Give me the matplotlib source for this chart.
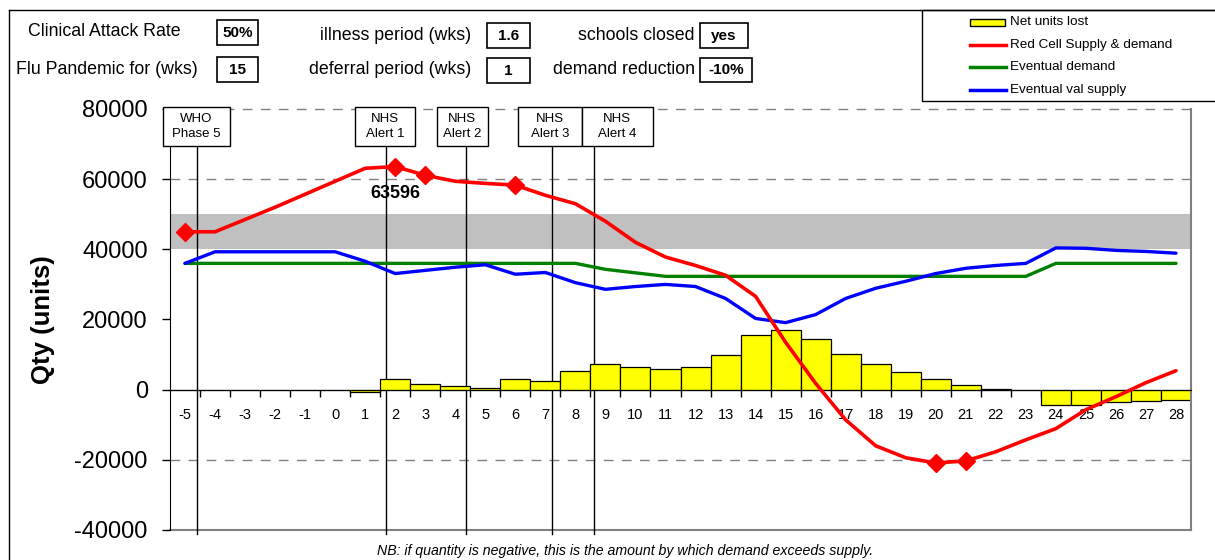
import numpy as np
import matplotlib
matplotlib.use('Agg')
import matplotlib.pyplot as plt
from matplotlib.patches import Rectangle
from matplotlib.lines import Line2D

plt.rcParams['font.family'] = ['Liberation Sans', 'DejaVu Sans']

# weeks relative to pandemic start
weeks = list(range(-5, 29))

net_units_lost = [0, 0, 0, 0, 0, 0, -800, 2900, 1700, 1100, 400, 2900, 2400, 5400,
                  7300, 6600, 5900, 6600, 9900, 15700, 16900, 14300, 10200, 7300,
                  5000, 2900, 1400, 300, 0, -4500, -4500, -3600, -3300, -2900]

red_cell = [45000, 45000, 48500, 52000, 55700, 59400, 63100, 63596, 61100, 59400,
            58800, 58300, 55400, 53000, 48000, 42000, 37800, 35400, 32600, 26600,
            13500, 1800, -8600, -16000, -19400, -20900, -20300, -17700, -14300,
            -11100, -5700, -2000, 2000, 5400]

eventual_demand = [36000] * 14 + [34300, 33300] + [32300] * 13 + [36000] * 5

eventual_supply = [36000, 39300, 39300, 39300, 39300, 39300, 36600, 33100, 34000,
                   34900, 35600, 32900, 33400, 30500, 28600, 29400, 30000, 29400,
                   26000, 20300, 19100, 21400, 26000, 28900, 30900, 33100, 34600,
                   35400, 36000, 40400, 40300, 39700, 39400, 38900]

marker_weeks = [-5, 2, 3, 6, 20, 21]

# event markers: label, line position (week), box left/right (week)
events = [
    ('WHO\nPhase 5', -4.61, -5.73, -3.50),
    ('NHS\nAlert 1', 1.69, 0.66, 2.65),
    ('NHS\nAlert 2', 4.35, 3.38, 5.08),
    ('NHS\nAlert 3', 7.21, 6.08, 8.21),
    ('NHS\nAlert 4', 8.62, 8.21, 10.57),
]

peak_label = '63596'

W, H = 1215, 560


def px(x, y):
    return x / W, 1 - y / H


fig = plt.figure(figsize=(W / 100, H / 100), dpi=100)
ax = fig.add_axes([170 / W, 1 - 530 / H, (1191 - 170) / W, (530 - 109) / H])

ax.set_xlim(-5.5, 28.5)
ax.set_ylim(-40000, 80000)

# shaded band and reference lines
ax.axhspan(40000, 50000, color='#C0C0C0', lw=0, zorder=0)
for yv in [80000, 60000, -20000]:
    ax.axhline(yv, color='#808080', lw=1, ls=(0, (7, 6)), zorder=0.5, clip_on=False)
ax.axhline(-40000, color='#808080', lw=1.5, zorder=0.5, clip_on=False)

# bars
ax.bar(weeks, net_units_lost, width=1.0, color='#FFFF00', edgecolor='black',
       linewidth=0.9, zorder=2)

# lines
ax.plot(weeks, eventual_demand, color='#008000', lw=2.4, zorder=3, solid_capstyle='round')
ax.plot(weeks, eventual_supply, color='#0000FF', lw=2.4, zorder=3, solid_capstyle='round')
mk_idx = [weeks.index(w) for w in marker_weeks]
ax.plot(weeks, red_cell, color='#FF0000', lw=2.6, zorder=4, marker='D', markersize=9,
        markevery=mk_idx, solid_capstyle='round')

ax.text(2, 56000, peak_label, ha='center', va='center', fontsize=13,
        fontweight='bold', zorder=6)

# event lines and boxes
for label, xl, x0, x1 in events:
    ax.plot([xl, xl], [-41200, 69400], color='black', lw=1, zorder=1.5, clip_on=False)
    ax.add_patch(Rectangle((x0, 69400), x1 - x0, 80600 - 69400, facecolor='white',
                           edgecolor='black', lw=1, zorder=5, clip_on=False))
    ax.text((x0 + x1) / 2, 75000, label, ha='center', va='center', fontsize=9.5,
            zorder=6, linespacing=1.25)

# axes styling
ax.spines['top'].set_visible(False)
ax.spines['right'].set_color('#808080')
ax.spines['right'].set_linewidth(1.5)
ax.spines['left'].set_color('black')
ax.spines['bottom'].set_position(('data', 0))
ax.spines['bottom'].set_color('black')
ax.spines['bottom'].set_zorder(2.5)

ax.set_yticks([80000, 60000, 40000, 20000, 0, -20000, -40000])
ax.set_yticklabels(['80000', '60000', '40000', '20000', '0', '-20000', '-40000'])
ax.tick_params(axis='y', length=6, width=1, pad=10, labelsize=17)

ax.set_xticks(weeks)
ax.set_xticklabels([str(w) for w in weeks])
ax.set_xticks(np.arange(-4.5, 28.5, 1), minor=True)
ax.tick_params(axis='x', which='major', length=0, pad=13, labelsize=10.5)
ax.tick_params(axis='x', which='minor', length=5, width=1, direction='out')

fig.text(*px(43, 320), 'Qty (units)', rotation=90, ha='center', va='center',
         fontsize=18.5, fontweight='bold')

fig.text(*px(625, 551), 'NB: if quantity is negative, this is the amount by which demand exceeds supply.',
         ha='center', va='center', fontsize=10.2, style='italic')

# outer frame
fig.add_artist(Line2D([px(9, 0)[0], px(9, 0)[0]], [px(0, 10)[1], 0], color='black', lw=1))
fig.add_artist(Line2D([px(9, 0)[0], 1], [px(0, 10)[1], px(0, 10)[1]], color='black', lw=1))

# header parameters
header_labels = [
    ('Clinical Attack Rate', 104, 32, 'center'),
    ('Flu Pandemic for (wks)', 107, 70, 'center'),
    ('illness period (wks)', 471, 35, 'right'),
    ('deferral period (wks)', 471, 70, 'right'),
    ('schools closed', 694, 36, 'right'),
    ('demand reduction', 695, 70, 'right'),
]
header_values = [
    ('50%', 217, 20, 258, 45),
    ('15', 217, 57, 258, 82),
    ('1.6', 487, 23, 530, 48),
    ('1', 487, 58, 530, 83),
    ('yes', 700, 23, 748, 48),
    ('-10%', 700, 58, 752, 82),
]
for txt, x, y, ha in header_labels:
    fig.text(*px(x, y), txt, ha=ha, va='center', fontsize=12.8)
for txt, x0, y0, x1, y1 in header_values:
    fig.add_artist(Rectangle(px(x0, y1), (x1 - x0) / W, (y1 - y0) / H,
                             facecolor='white', edgecolor='black', lw=1.2,
                             transform=fig.transFigure))
    fig.text(*px((x0 + x1) / 2, (y0 + y1) / 2 + 0.5), txt, ha='center', va='center',
             fontsize=11, fontweight='bold')

# legend box
fig.add_artist(Rectangle(px(922, 101), 0.3, 91 / H, facecolor='white', edgecolor='black',
                         lw=1, transform=fig.transFigure))
fig.add_artist(Rectangle(px(970, 26), 35 / W, 7 / H, facecolor='#FFFF00',
                         edgecolor='black', lw=1, transform=fig.transFigure))
for yy, c in [(45, '#FF0000'), (67, '#008000'), (90, '#0000FF')]:
    fig.add_artist(Line2D([970 / W, 1006 / W], [1 - yy / H] * 2, color=c, lw=2.5))
for yy, t in [(22, 'Net units lost'), (45, 'Red Cell Supply & demand'),
              (67, 'Eventual demand'), (90, 'Eventual val supply')]:
    fig.text(*px(1010, yy), t, ha='left', va='center', fontsize=9.7)

fig.savefig('out.png', dpi=100)
